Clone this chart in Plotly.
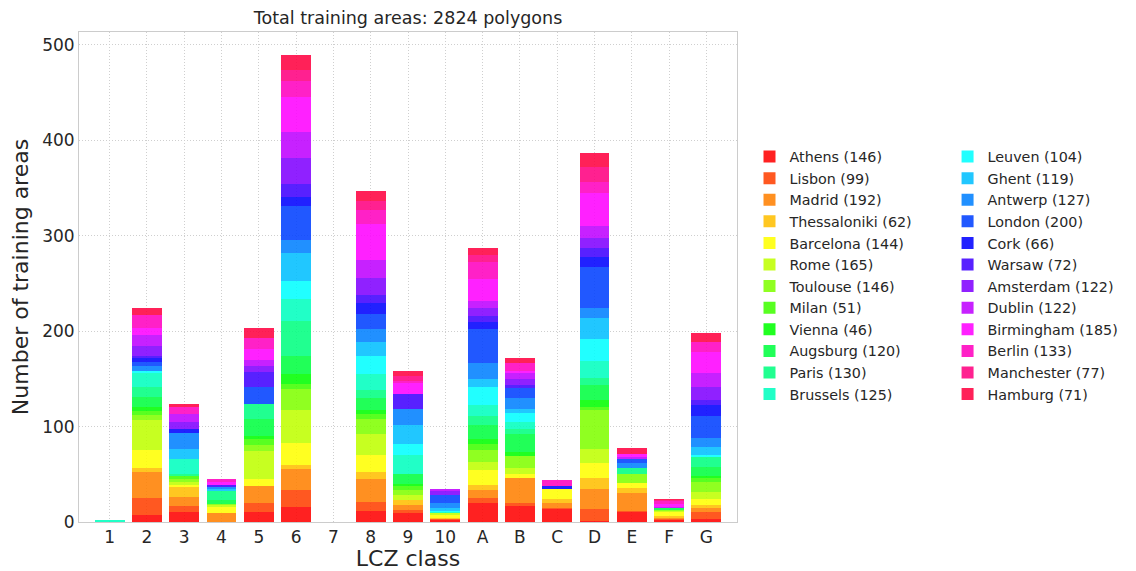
import colorsys
import plotly.graph_objects as go

classes = ["1", "2", "3", "4", "5", "6", "7", "8", "9", "10", "A", "B", "C", "D", "E", "F", "G"]

cities = ["Athens", "Lisbon", "Madrid", "Thessaloniki", "Barcelona", "Rome", "Toulouse", "Milan",
          "Vienna", "Augsburg", "Paris", "Brussels", "Leuven", "Ghent", "Antwerp", "London",
          "Cork", "Warsaw", "Amsterdam", "Dublin", "Birmingham", "Berlin", "Manchester", "Hamburg"]
city_counts = [146, 99, 192, 62, 144, 165, 146, 51, 46, 120, 130, 125, 104, 119, 127, 200,
               66, 72, 122, 122, 185, 133, 77, 71]

# values per LCZ class (1..10, A..G)
athens       = [0, 7, 10, 0, 10, 16, 0, 12, 9, 2, 20, 17, 14, 1, 11, 2, 3]
lisbon       = [0, 18, 7, 0, 10, 18, 0, 9, 4, 1, 5, 3, 1, 13, 1, 1, 8]
madrid       = [0, 27, 9, 9, 18, 22, 0, 24, 5, 0, 9, 26, 5, 21, 18, 1, 4]
thessaloniki = [0, 5, 11, 0, 0, 4, 0, 7, 5, 1, 5, 0, 4, 11, 6, 2, 3]
barcelona    = [0, 18, 2, 7, 7, 23, 0, 18, 0, 3, 15, 4, 11, 16, 5, 4, 6]
rome         = [0, 32, 3, 2, 29, 34, 0, 22, 5, 2, 9, 7, 0, 15, 0, 2, 7]
toulouse     = [0, 5, 3, 1, 7, 22, 0, 16, 6, 0, 12, 12, 0, 40, 9, 1, 11]
milan        = [0, 4, 3, 0, 6, 6, 0, 5, 4, 0, 7, 0, 0, 4, 0, 0, 4]
vienna       = [0, 4, 0, 0, 3, 10, 0, 4, 2, 0, 5, 4, 0, 7, 0, 0, 2]
augsburg     = [0, 11, 0, 4, 18, 19, 0, 13, 10, 0, 15, 19, 0, 16, 0, 2, 10]
paris        = [0, 11, 2, 10, 16, 37, 0, 8, 0, 0, 9, 5, 0, 7, 7, 0, 10]
brussels     = [2, 14, 16, 0, 0, 23, 0, 17, 20, 1, 12, 8, 0, 18, 0, 0, 0]
leuven       = [0, 2, 0, 0, 0, 19, 0, 19, 12, 2, 18, 9, 0, 23, 0, 0, 2]
ghent        = [0, 0, 11, 2, 0, 29, 0, 15, 20, 3, 9, 4, 0, 22, 0, 0, 9]
antwerp      = [0, 5, 16, 2, 0, 14, 0, 13, 16, 5, 17, 12, 0, 10, 5, 0, 9]
london       = [0, 5, 0, 0, 18, 35, 0, 16, 0, 8, 35, 10, 0, 43, 4, 0, 23]
cork         = [0, 4, 4, 0, 0, 10, 0, 11, 0, 0, 8, 0, 3, 11, 0, 0, 12]
warsaw       = [0, 2, 0, 2, 15, 13, 0, 9, 16, 0, 6, 4, 0, 9, 0, 0, 5]
amsterdam    = [0, 10, 8, 0, 7, 27, 0, 18, 0, 4, 8, 6, 0, 11, 0, 0, 14]
dublin       = [0, 12, 8, 0, 6, 28, 0, 19, 0, 3, 8, 6, 0, 12, 2, 1, 14]
birmingham   = [0, 7, 0, 3, 11, 36, 0, 37, 12, 0, 23, 2, 0, 35, 3, 3, 22]
berlin       = [0, 14, 7, 3, 12, 17, 0, 15, 2, 0, 17, 9, 6, 11, 0, 3, 11]
manchester   = [0, 0, 0, 0, 0, 12, 0, 9, 5, 0, 8, 0, 0, 16, 0, 1, 0]
hamburg      = [0, 7, 4, 0, 10, 15, 0, 11, 5, 0, 7, 5, 0, 15, 7, 1, 9]

series = [athens, lisbon, madrid, thessaloniki, barcelona, rome, toulouse, milan, vienna,
          augsburg, paris, brussels, leuven, ghent, antwerp, london, cork, warsaw, amsterdam,
          dublin, birmingham, berlin, manchester, hamburg]

title_text = "Total training areas: 2824 polygons"

def hsv_color(i, n, alpha=0.87):
    r, g, b = colorsys.hsv_to_rgb(i / n, 1.0, 1.0)
    return f"rgba({int(r*255)},{int(g*255)},{int(b*255)},{alpha})"

fig = go.Figure()
n = len(cities)
for i, (name, cnt, vals) in enumerate(zip(cities, city_counts, series)):
    fig.add_trace(go.Bar(
        x=classes, y=vals, name=f"{name} ({cnt})",
        marker=dict(color=hsv_color(i, n), line=dict(width=0)),
        legend="legend" if i < 12 else "legend2",
    ))

font_family = "DejaVu Sans"
legend_common = dict(
    traceorder="normal", font=dict(family=font_family, size=14.3, color="#262626"),
    bgcolor="rgba(0,0,0,0)", borderwidth=0, yanchor="top", xanchor="left",
    itemclick=False, itemdoubleclick=False,
)

# page has an 8px body margin, so the figure is sized/offset to compensate
W, H = 1128, 563
L, R, T, B = 71, 399, 24, 49
fig.update_layout(
    width=W, height=H,
    margin=dict(l=L, r=R, t=T, b=B, autoexpand=False),
    barmode="stack", bargap=0.2,
    paper_bgcolor="white", plot_bgcolor="white",
    font=dict(family=font_family, color="#262626"),
    title=dict(text=title_text, x=(L + W - R) / 2 / W, xanchor="center",
               y=1 - 10 / H, yanchor="middle",
               font=dict(family=font_family, size=17.5, color="#262626")),
    legend=dict(x=1.019, y=0.778, **legend_common),
    legend2=dict(x=1.32, y=0.778, **legend_common),
    showlegend=True,
)

grid_dash = "1px,2px"
fig.update_xaxes(
    type="category", range=[-0.82, 16.82], automargin=False,
    showgrid=True, gridcolor="#cfcfcf", griddash=grid_dash, gridwidth=1,
    showline=True, linecolor="#cccccc", linewidth=1, mirror=True,
    ticks="", tickfont=dict(size=17, color="#262626"),
    title=dict(text="LCZ class", font=dict(size=22, color="#262626"), standoff=1),
)
fig.update_yaxes(
    range=[0, 513.5], tickvals=[0, 100, 200, 300, 400, 500], automargin=False,
    showgrid=True, gridcolor="#cfcfcf", griddash=grid_dash, gridwidth=1,
    showline=True, linecolor="#cccccc", linewidth=1, mirror=True,
    zeroline=False,
    ticks="", tickfont=dict(size=17, color="#262626"),
    title=dict(text="Number of training areas", font=dict(size=22, color="#262626"), standoff=8),
)

fig.write_html("out.html")
